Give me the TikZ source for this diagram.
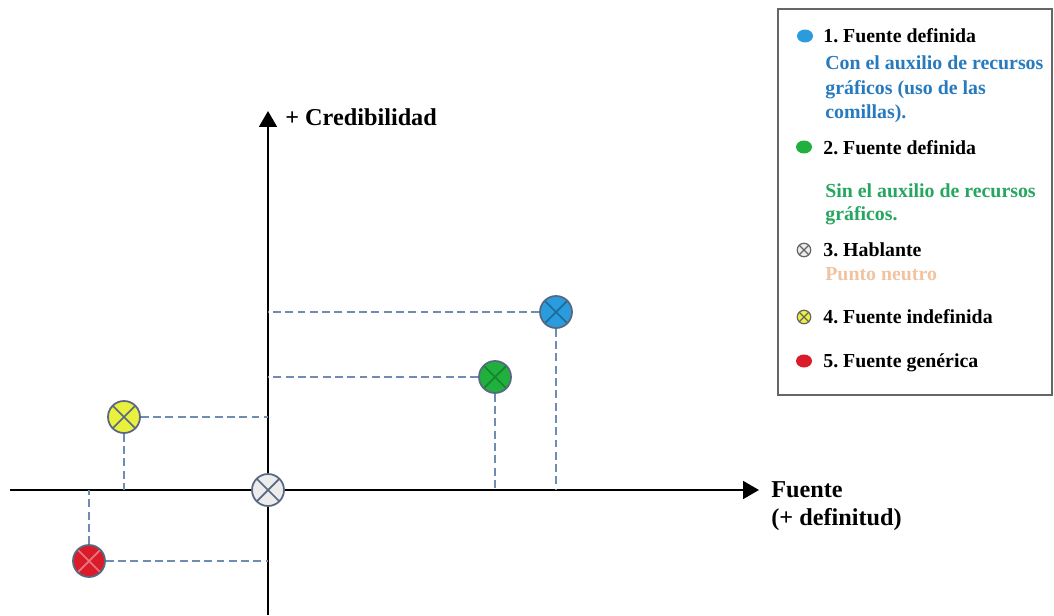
\documentclass[tikz,border=0pt]{standalone}
\usepackage{fontspec}
\setmainfont{Liberation Serif}
\usetikzlibrary{arrows.meta, positioning, shapes.geometric}
\definecolor{ptazul}{RGB}{42, 155, 220}
\definecolor{ptverde}{RGB}{32, 176, 62}
\definecolor{ptamarillo}{RGB}{234, 240, 62}
\definecolor{ptgris}{RGB}{236, 236, 236}
\definecolor{ptrojo}{RGB}{218, 28, 42}
\definecolor{ptborde}{RGB}{88, 104, 130}
\definecolor{ptguia}{RGB}{112, 140, 178}
\definecolor{txtazul}{RGB}{40, 122, 190}
\definecolor{txtverde}{RGB}{38, 166, 96}
\definecolor{txtneutro}{RGB}{240, 196, 160}
\frenchspacing

\begin{document}
\begin{tikzpicture}[
    x=0.02cm, y=-0.02cm,
    eje/.style={line width=1.5pt, -{Triangle[length=9pt, width=10pt]}},
    guia/.style={draw=ptguia, line width=1.1pt, dash pattern=on 4.5pt off 2.5pt},
    punto/.style 2 args={circle, draw=ptborde, line width=1pt, fill=#1, minimum size=0.64cm, inner sep=0pt,
        path picture={\draw[#2, line width=1pt]
            (path picture bounding box.north west) -- (path picture bounding box.south east)
            (path picture bounding box.north east) -- (path picture bounding box.south west);}},
    marca/.style={ellipse, fill=#1, minimum width=0.32cm, minimum height=0.26cm, inner sep=0pt},
    marcax/.style 2 args={circle, draw=#2, line width=0.7pt, fill=#1, minimum size=0.27cm, inner sep=0pt,
        path picture={\draw[#2, line width=0.7pt]
            (path picture bounding box.north west) -- (path picture bounding box.south east)
            (path picture bounding box.north east) -- (path picture bounding box.south west);}},
    titulo/.style={anchor=base west, inner sep=0pt, font=\bfseries\fontsize{11.3}{13}\selectfont},
    rotulo/.style={anchor=base west, inner sep=0pt, font=\bfseries\fontsize{13.8}{16}\selectfont}
]
\useasboundingbox (0,0) rectangle (1054,615);

% === Ejes ===
\coordinate (xini) at (10,490);
\coordinate (xfin) at (759,490);
\coordinate (yini) at (268,615);
\coordinate (yfin) at (268,111);
\draw[eje] (xini) -- (xfin);
\draw[eje] (yini) -- (yfin);

\node[rotulo] (cred) at (285,126) {+ Credibilidad};
\node[rotulo] (fuente) at (771,497) {Fuente};
\node[rotulo] (definitud) at (771,525) {(+ definitud)};

% === Puntos ===
\node[punto={ptazul}{ptazul!70!black}] (azul) at (556,312) {};
\node[punto={ptverde}{ptverde!75!black}] (verde) at (495,377) {};
\node[punto={ptamarillo}{ptborde}] (amarillo) at (124,417) {};
\node[punto={ptrojo}{ptrojo!60!white}] (rojo) at (89,561) {};

% === Guias ===
\draw[guia] (azul.west) -- (azul.west -| yini);
\draw[guia] (azul.south) -- (azul.south |- xini);
\draw[guia] (verde.west) -- (verde.west -| yini);
\draw[guia] (verde.south) -- (verde.south |- xini);
\draw[guia] (amarillo.east) -- (amarillo.east -| yini);
\draw[guia] (amarillo.south) -- (amarillo.south |- xini);
\draw[guia] (rojo.east) -- (rojo.east -| yini);
\draw[guia] (rojo.north) -- (rojo.north |- xini);

\node[punto={ptgris}{ptborde}] (hablante) at (268,490) {};

% === Leyenda ===
\draw[draw=black!60, line width=1pt] (778,9) rectangle (1052,395);

\node[marca=ptazul] (m1) at (805,36) {};
\node[titulo] (l1) at (823,43) {1. Fuente definida};
\node[titulo, text=txtazul] (l1a) at (825,70) {Con el auxilio de recursos};
\node[titulo, text=txtazul] (l1b) at (825,94) {gráficos (uso de las};
\node[titulo, text=txtazul] (l1c) at (825,118) {comillas).};

\node[marca=ptverde] (m2) at (804,147) {};
\node[titulo] (l2) at (823,154) {2. Fuente definida};
\node[titulo, text=txtverde] (l2a) at (825,197) {Sin el auxilio de recursos};
\node[titulo, text=txtverde] (l2b) at (825,220) {gráficos.};

\node[marcax={ptgris}{black!60}] (m3) at (804,250) {};
\node[titulo] (l3) at (823,256) {3. Hablante};
\node[titulo, text=txtneutro] (l3a) at (825,280) {Punto neutro};

\node[marcax={ptamarillo}{black!60}] (m4) at (804,317) {};
\node[titulo] (l4) at (823,323) {4. Fuente indefinida};

\node[marca=ptrojo] (m5) at (804,361) {};
\node[titulo] (l5) at (823,367) {5. Fuente genérica};

\end{tikzpicture}
\end{document}
